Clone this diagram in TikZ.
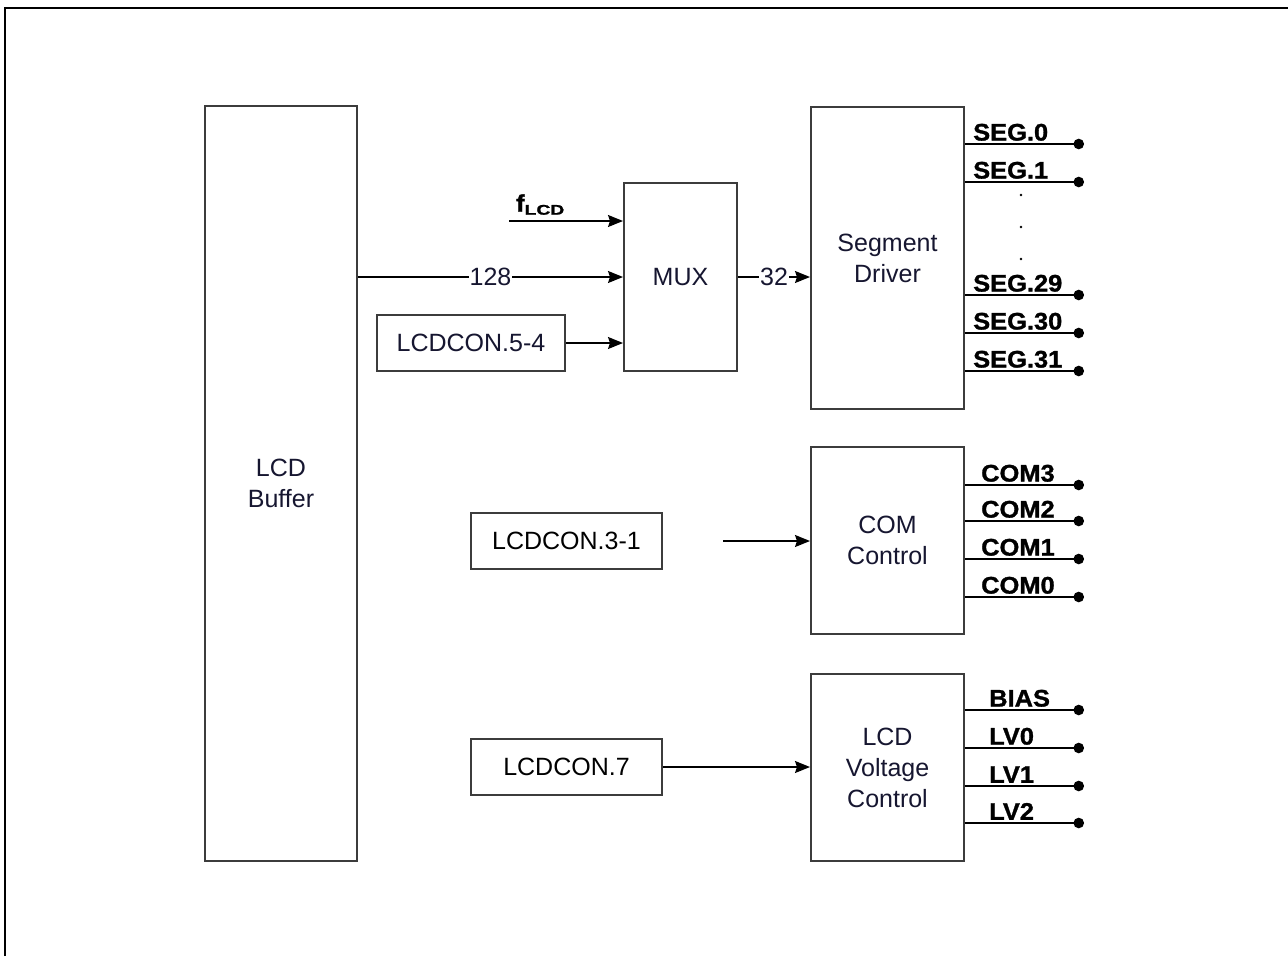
\documentclass[tikz,border=0pt]{standalone}
\usepackage{fontspec}
\setmainfont{Liberation Sans}
\newfontfamily\pinfont{Liberation Sans}[BoldFeatures={FakeBold=1.2, FakeStretch=1.06}]
\usetikzlibrary{arrows.meta}
\definecolor{boxline}{RGB}{60,60,60}
\definecolor{txt}{RGB}{22,22,48}
\tikzset{
  box/.style={draw=boxline, line width=2pt, fill=white, inner sep=0pt, align=center,
              text=txt, font=\fontsize{25}{31}\selectfont},
  arr/.style={line width=1.5pt, -{Stealth[length=15pt,width=12pt,inset=2pt]}},
  pinline/.style={line width=1.5pt, -{Circle[length=10.5pt,width=10.5pt]}},
  pinlabel/.style={anchor=south west, inner sep=0pt, font=\fontsize{24}{24}\pinfont\bfseries},
  numlabel/.style={fill=white, inner sep=1pt, text=txt, font=\fontsize{25}{25}\selectfont},
}
\begin{document}
\begin{tikzpicture}[x=1pt,y=-1pt]
\useasboundingbox (0,0) rectangle (1288,956);
% outer frame (left and top edges visible)
\draw[line width=2pt] (4.5,956) -- (4.5,8) -- (1288,8);

% main blocks
\node[box, minimum width=152pt, minimum height=755pt] (buf) at (281,483.5) {LCD\\Buffer};
\node[box, minimum width=113pt, minimum height=188pt] (mux) at (680.5,277) {MUX};
\node[box, minimum width=153pt, minimum height=302pt] (seg) at (887.5,258) {Segment\\Driver};
\node[box, minimum width=153pt, minimum height=187pt] (com) at (887.5,540.5) {COM\\Control};
\node[box, minimum width=153pt, minimum height=187pt] (lv) at (887.5,767.5) {LCD\\Voltage\\Control};

% control register blocks
\node[box, minimum width=188pt, minimum height=56pt] (c54) at (471,343) {LCDCON.5-4};
\node[box, minimum width=191pt, minimum height=56pt, text=black] (c31) at (566.5,541) {LCDCON.3-1};
\node[box, minimum width=191pt, minimum height=56pt, text=black] (c7) at (566.5,767) {LCDCON.7};

% inputs to MUX
\coordinate (fin) at (509,221);
\draw[arr] (fin) -- (fin -| mux.west);
\node[anchor=south west, inner sep=0pt] (flcd) at (516,215)
  {\fontsize{24}{24}\pinfont\bfseries f\raisebox{-3pt}{\scalebox{1.3}[1]{\fontsize{14}{14}\pinfont\bfseries LCD}}};
\draw[arr] (buf.east |- mux.west) -- node[numlabel] {128} (mux.west);
\draw[arr] (c54.east) -- (c54.east -| mux.west);

% MUX to segment driver
\draw[arr] (mux.east) -- node[numlabel] {32} (mux.east -| seg.west);

% control to COM and LCD voltage
\coordinate (cin) at (723,541);
\draw[arr] (cin) -- (cin -| com.west);
\draw[arr] (c7.east) -- (c7.east -| lv.west);

% outputs
\foreach \n/\y/\lab/\lx in {s0/144/SEG.0/973, s1/182/SEG.1/973, s29/295/SEG.29/973, s30/333/SEG.30/973, s31/371/SEG.31/973,
                          c3/485/COM3/981, c2/521/COM2/981, c1/559/COM1/981, c0/597/COM0/981,
                          bias/710/BIAS/989, v0/748/LV0/989, v1/786/LV1/989, v2/823/LV2/989}{
  \coordinate (\n) at (1084,\y);
  \draw[pinline] (seg.east |- \n) -- (\n);
  \node[pinlabel] (\n-l) at (\lx,\y-3) {\lab};
}
% ellipsis dots
\foreach \y in {195,227,259}{
  \fill (1021,\y) circle (1.4pt);
}
\end{tikzpicture}
\end{document}
